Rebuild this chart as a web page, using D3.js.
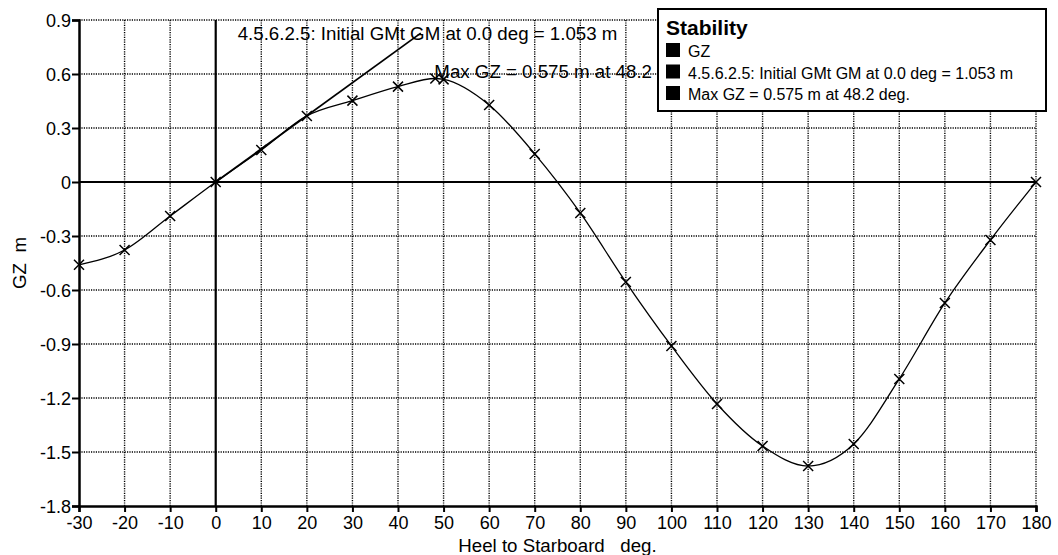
<!DOCTYPE html>
<html>
<head>
<meta charset="utf-8">
<script src="https://cdn.jsdelivr.net/npm/d3@7"></script>
<style>
  body { margin: 0; background: #fff; }
  text { font-family: "Liberation Sans", Arial, sans-serif; fill: #000; }
</style>
</head>
<body>
<svg id="chart" width="1058" height="555"></svg>
<script>
// heel angle (deg) and GZ (m)
var heelDeg = [-30, -20, -10, 0, 10, 20, 30, 40, 48.2, 50, 60, 70, 80, 90, 100, 110, 120, 130, 140, 150, 160, 170, 180];
var gzValues = [-0.46, -0.378, -0.189, 0, 0.178, 0.367, 0.452, 0.53, 0.575, 0.57, 0.428, 0.156, -0.172, -0.556, -0.911, -1.233, -1.467, -1.578, -1.456, -1.094, -0.672, -0.322, 0];

// initial GM line
var gmDeg = [0, 45];
var gmValues = [0, 0.827];

var xTicks = [-30, -20, -10, 0, 10, 20, 30, 40, 50, 60, 70, 80, 90, 100, 110, 120, 130, 140, 150, 160, 170, 180];
var yTicks = [0.9, 0.6, 0.3, 0, -0.3, -0.6, -0.9, -1.2, -1.5, -1.8];

var legendTitle = 'Stability';
var legendItems = ['GZ', '4.5.6.2.5: Initial GMt GM at 0.0 deg = 1.053 m', 'Max GZ = 0.575 m at 48.2 deg.'];
var gmLabel = '4.5.6.2.5: Initial GMt GM at 0.0 deg = 1.053 m';
var maxLabel = 'Max GZ = 0.575 m at 48.2 deg.';
var maxPoint = {deg: 48.2, gz: 0.575};

var
  W = 1058, H = 555,
  margin = {top: 20, right: 22, bottom: 49, left: 79},
  svg = d3.select('#chart'),
  xScale = d3.scaleLinear().domain([-30, 180]).range([margin.left, W - margin.right]),
  yScale = d3.scaleLinear().domain([-1.8, 0.9]).range([H - margin.bottom, margin.top]),
  x0 = xScale.range()[0], x1 = xScale.range()[1],
  y0 = yScale.range()[0], y1 = yScale.range()[1]
  ;

// dotted grid
var grid = svg.append('g').attr('stroke', '#000').attr('stroke-width', 1.4).attr('stroke-dasharray', '1.2,1.2');
grid.selectAll('.gx')
  .data(xTicks.filter(d => d !== -30 && d !== 0))
  .enter().append('line')
  .attr('x1', d => xScale(d)).attr('x2', d => xScale(d))
  .attr('y1', y1).attr('y2', y0);
grid.selectAll('.gy')
  .data(yTicks.filter(d => d !== -1.8 && d !== 0))
  .enter().append('line')
  .attr('x1', x0).attr('x2', x1)
  .attr('y1', d => yScale(d)).attr('y2', d => yScale(d));

// axes
var xAxis = d3.axisBottom(xScale).tickValues(xTicks).tickSize(6).tickPadding(4).tickFormat(d => String(d));
var yAxis = d3.axisLeft(yScale).tickValues(yTicks).tickSize(7).tickPadding(1)
  .tickFormat(d => d === 0 ? '0' : d.toFixed(1));

var gx = svg.append('g').attr('transform', 'translate(0,' + y0 + ')').call(xAxis);
var gy = svg.append('g').attr('transform', 'translate(' + x0 + ',0)').call(yAxis);
[gx, gy].forEach(g => {
  g.select('.domain').attr('stroke-width', 2.5);
  g.selectAll('.tick line').attr('stroke-width', 2);
  g.selectAll('.tick text').attr('font-size', '18px').attr('font-family', '"Liberation Sans", Arial, sans-serif');
});
gx.selectAll('.tick text').attr('dy', '0.72em');
gy.selectAll('.tick text').attr('dy', '0.36em');

// zero lines
svg.append('line')
  .attr('x1', x0).attr('x2', x1)
  .attr('y1', yScale(0)).attr('y2', yScale(0))
  .attr('stroke', '#000').attr('stroke-width', 2.2);
svg.append('line')
  .attr('x1', xScale(0)).attr('x2', xScale(0))
  .attr('y1', y1).attr('y2', y0)
  .attr('stroke', '#000').attr('stroke-width', 2.2);

// GM line
svg.append('path')
  .datum(gmDeg.map((d, i) => [d, gmValues[i]]))
  .attr('d', d3.line().x(d => xScale(d[0])).y(d => yScale(d[1])))
  .attr('fill', 'none').attr('stroke', '#000').attr('stroke-width', 1.8);

// GZ curve
var pts = heelDeg.map((d, i) => ({deg: d, gz: gzValues[i]}));
svg.append('path')
  .datum(pts)
  .attr('d', d3.line().curve(d3.curveMonotoneX).x(d => xScale(d.deg)).y(d => yScale(d.gz)))
  .attr('fill', 'none').attr('stroke', '#000').attr('stroke-width', 1.3);

// x markers
var s = 5;
svg.append('g').selectAll('path')
  .data(pts)
  .enter().append('path')
  .attr('transform', d => 'translate(' + xScale(d.deg) + ',' + yScale(d.gz) + ')')
  .attr('d', 'M' + -s + ',' + -s + 'L' + s + ',' + s + 'M' + -s + ',' + s + 'L' + s + ',' + -s)
  .attr('stroke', '#000').attr('stroke-width', 1.5);

// annotations
svg.append('text')
  .attr('x', xScale(0) + 22).attr('y', y1 + 20)
  .attr('font-size', '18.7px')
  .text(gmLabel);
svg.append('text')
  .attr('x', xScale(maxPoint.deg) - 1).attr('y', yScale(maxPoint.gz) - 1)
  .attr('font-size', '18.7px')
  .text(maxLabel);

// legend
var lg = svg.append('g').attr('transform', 'translate(658,9)');
lg.append('rect')
  .attr('width', 388).attr('height', 102)
  .attr('fill', '#fff').attr('stroke', '#000').attr('stroke-width', 2);
lg.append('text')
  .attr('x', 8).attr('y', 26)
  .attr('font-size', '21px').attr('font-weight', 'bold')
  .text(legendTitle);
var rows = lg.selectAll('.row')
  .data(legendItems)
  .enter().append('g')
  .attr('transform', (d, i) => 'translate(8,' + (34 + i * 21.5) + ')');
rows.append('rect')
  .attr('width', 14).attr('height', 14).attr('fill', '#000');
rows.append('text')
  .attr('x', 22).attr('y', 14)
  .attr('font-size', '16px')
  .text(d => d);

svg.append('text')
  .attr('x', (x0 + x1) / 2).attr('y', 552)
  .attr('text-anchor', 'middle')
  .attr('font-size', '18.7px')
  .attr('xml:space', 'preserve')
  .text('Heel to Starboard   deg.');

svg.append('text')
  .attr('transform', 'translate(26,' + ((y0 + y1) / 2) + ') rotate(-90)')
  .attr('text-anchor', 'middle')
  .attr('font-size', '18.7px')
  .attr('xml:space', 'preserve')
  .text('GZ  m');
</script>
</body>
</html>
